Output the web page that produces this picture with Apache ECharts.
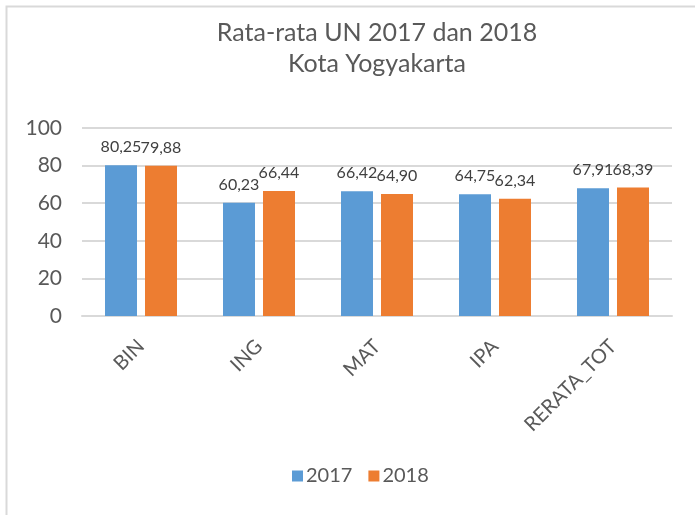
<!DOCTYPE html>
<html>
<head>
<meta charset="utf-8">
<script src="https://cdn.jsdelivr.net/npm/echarts@6/dist/echarts.min.js"></script>
<style>html,body{margin:0;padding:0;background:#fff}#c{width:695px;height:515px}</style>
</head>
<body>
<div id="c"></div>
<script>
const categories = ['BIN', 'ING', 'MAT', 'IPA', 'RERATA_TOT'];
const series2017 = [80.25, 60.23, 66.42, 64.75, 67.91];
const series2018 = [79.88, 66.44, 64.90, 62.34, 68.39];
const seriesNames = ['2017', '2018'];
const yTicks = { min: 0, max: 100, interval: 20 };

const FONT = 'Lato, "Open Sans", sans-serif';
const fmt = p => p.value.toFixed(2).replace('.', ',');

const chart = echarts.init(document.getElementById('c'), null, { renderer: 'canvas' });
chart.setOption({
  animation: false,
  backgroundColor: '#fff',
  textStyle: { fontFamily: FONT },
  graphic: [{
    type: 'rect', left: 4, top: 4,
    shape: { width: 760, height: 560 },
    style: { fill: 'none', stroke: '#d9d9d9', lineWidth: 2 },
    silent: true
  }],
  title: {
    text: 'Rata-rata UN 2017 dan 2018\nKota Yogyakarta',
    left: 372, top: 12, textAlign: 'center',
    textStyle: { fontFamily: FONT, fontSize: 25, fontWeight: 'normal', color: '#595959', lineHeight: 31 }
  },
  legend: {
    data: seriesNames,
    left: 287, top: 461,
    itemWidth: 11, itemHeight: 11, itemGap: 16,
    icon: 'rect',
    textStyle: { fontFamily: FONT, fontSize: 20, color: '#595959', padding: [0, 0, 0, -2] }
  },
  grid: { left: 82, right: 23, top: 128, bottom: 199, containLabel: false },
  xAxis: {
    type: 'category', data: categories,
    axisLine: { lineStyle: { color: '#d9d9d9', width: 2 } },
    axisTick: { show: false },
    axisLabel: { rotate: 45, margin: 27, fontFamily: FONT, fontSize: 20, color: '#595959' }
  },
  yAxis: {
    type: 'value', min: yTicks.min, max: yTicks.max, interval: yTicks.interval,
    axisLine: { show: false }, axisTick: { show: false },
    splitLine: { lineStyle: { color: '#d9d9d9', width: 2 } },
    axisLabel: { margin: 20, fontFamily: FONT, fontSize: 21, color: '#595959' }
  },
  series: [
    { name: seriesNames[0], type: 'bar', data: series2017, barWidth: 32, barGap: '25%',
      itemStyle: { color: '#5b9bd5' },
      label: { show: true, position: 'top', distance: 10, formatter: fmt, fontFamily: FONT, fontSize: 16, color: '#404040' } },
    { name: seriesNames[1], type: 'bar', data: series2018, barWidth: 32,
      itemStyle: { color: '#ed7d31' },
      label: { show: true, position: 'top', distance: 10, formatter: fmt, fontFamily: FONT, fontSize: 16, color: '#404040' } }
  ]
});
</script>
</body>
</html>
